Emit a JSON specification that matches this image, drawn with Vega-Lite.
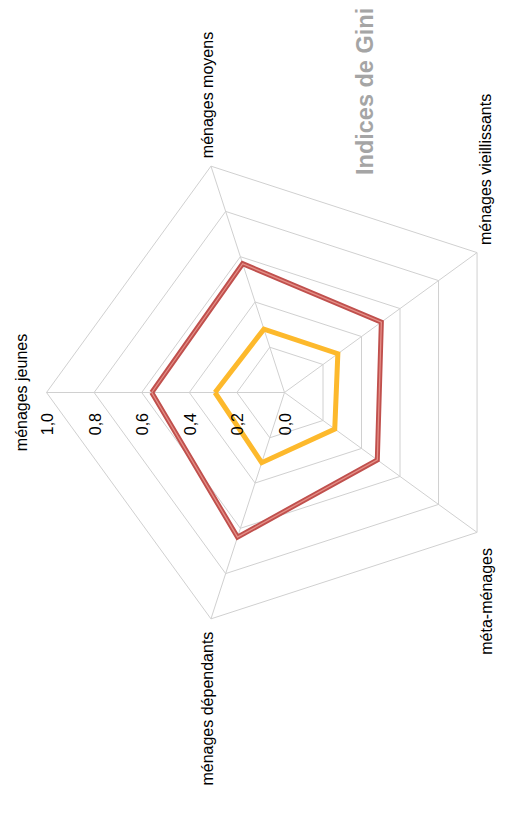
{
  "$schema": "https://vega.github.io/schema/vega-lite/v6.json",
  "width": 525,
  "height": 832,
  "autosize": "none",
  "padding": 0,
  "background": "white",
  "config": {"view": {"stroke": null}, "font": "Liberation Sans"},
  "datasets": {
    "gini": [
      {"serie": "Inégalité monétaire", "axe": "ménages jeunes", "k": 0, "valeur": 0.558},
      {"serie": "Inégalité monétaire", "axe": "ménages moyens", "k": 1, "valeur": 0.569},
      {"serie": "Inégalité monétaire", "axe": "ménages vieillissants", "k": 2, "valeur": 0.503},
      {"serie": "Inégalité monétaire", "axe": "méta-ménages", "k": 3, "valeur": 0.482},
      {"serie": "Inégalité monétaire", "axe": "ménages dépendants", "k": 4, "valeur": 0.639},
      {"serie": "Inégalité monétaire", "axe": "ménages jeunes", "k": 5, "valeur": 0.558},
      {"serie": "Inégalité non monétaire", "axe": "ménages jeunes", "k": 0, "valeur": 0.292},
      {"serie": "Inégalité non monétaire", "axe": "ménages moyens", "k": 1, "valeur": 0.28},
      {"serie": "Inégalité non monétaire", "axe": "ménages vieillissants", "k": 2, "valeur": 0.277},
      {"serie": "Inégalité non monétaire", "axe": "méta-ménages", "k": 3, "valeur": 0.261},
      {"serie": "Inégalité non monétaire", "axe": "ménages dépendants", "k": 4, "valeur": 0.31},
      {"serie": "Inégalité non monétaire", "axe": "ménages jeunes", "k": 5, "valeur": 0.292}
    ],
    "axes": [
      {"axe": "ménages jeunes", "k": 0},
      {"axe": "ménages moyens", "k": 1},
      {"axe": "ménages vieillissants", "k": 2},
      {"axe": "méta-ménages", "k": 3},
      {"axe": "ménages dépendants", "k": 4}
    ],
    "rings": [
      {"r": 0.2, "k": [0, 1, 2, 3, 4, 5]},
      {"r": 0.4, "k": [0, 1, 2, 3, 4, 5]},
      {"r": 0.6, "k": [0, 1, 2, 3, 4, 5]},
      {"r": 0.8, "k": [0, 1, 2, 3, 4, 5]},
      {"r": 1.0, "k": [0, 1, 2, 3, 4, 5]}
    ],
    "ticks": [
      {"t": "0,0", "r": 0},
      {"t": "0,2", "r": 0.2},
      {"t": "0,4", "r": 0.4},
      {"t": "0,6", "r": 0.6},
      {"t": "0,8", "r": 0.8},
      {"t": "1,0", "r": 1.0}
    ],
    "titre": [{"t": "Indices de Gini", "px": 0.3424, "py": 0.9139}]
  },
  "encoding": {
    "x": {"field": "px", "type": "quantitative", "scale": {"domain": [-1.19538, 1.0105], "nice": false, "zero": false}, "axis": null},
    "y": {"field": "py", "type": "quantitative", "scale": {"domain": [-1.84664, 1.64916], "nice": false, "zero": false}, "axis": null}
  },
  "layer": [
    {
      "data": {"name": "rings"},
      "transform": [
        {"flatten": ["k"]},
        {"calculate": "(180 - 72 * datum.k) * PI / 180", "as": "theta"},
        {"calculate": "datum.r * cos(datum.theta)", "as": "px"},
        {"calculate": "datum.r * sin(datum.theta)", "as": "py"}
      ],
      "mark": {"type": "line", "color": "#d0d0d0", "strokeWidth": 1},
      "encoding": {"detail": {"field": "r"}, "order": {"field": "k", "type": "quantitative"}}
    },
    {
      "data": {"name": "axes"},
      "transform": [
        {"calculate": "(180 - 72 * datum.k) * PI / 180", "as": "theta"},
        {"calculate": "cos(datum.theta)", "as": "px"},
        {"calculate": "sin(datum.theta)", "as": "py"}
      ],
      "mark": {"type": "rule", "color": "#d0d0d0", "strokeWidth": 1},
      "encoding": {"x2": {"datum": 0}, "y2": {"datum": 0}}
    },
    {
      "data": {"name": "gini"},
      "transform": [
        {"calculate": "(180 - 72 * datum.k) * PI / 180", "as": "theta"},
        {"calculate": "datum.valeur * cos(datum.theta)", "as": "px"},
        {"calculate": "datum.valeur * sin(datum.theta)", "as": "py"}
      ],
      "mark": {"type": "line", "strokeWidth": 5, "strokeJoin": "miter"},
      "encoding": {
        "color": {"field": "serie", "type": "nominal", "scale": {"domain": ["Inégalité monétaire", "Inégalité non monétaire"], "range": ["#c0504d", "#fdb92c"]}, "legend": null},
        "detail": {"field": "serie"},
        "order": {"field": "k", "type": "quantitative"}
      }
    },
    {
      "data": {"name": "gini"},
      "transform": [
        {"filter": "datum.serie == 'Inégalité monétaire'"},
        {"calculate": "(180 - 72 * datum.k) * PI / 180", "as": "theta"},
        {"calculate": "datum.valeur * cos(datum.theta)", "as": "px"},
        {"calculate": "datum.valeur * sin(datum.theta)", "as": "py"}
      ],
      "mark": {"type": "line", "strokeWidth": 1.3, "color": "#e58f87", "strokeJoin": "miter"},
      "encoding": {"order": {"field": "k", "type": "quantitative"}}
    },
    {
      "data": {"name": "axes"},
      "transform": [
        {"filter": "datum.k == 0"},
        {"calculate": "(180 - 72 * datum.k) * PI / 180", "as": "theta"},
        {"calculate": "cos(datum.theta)", "as": "px"},
        {"calculate": "sin(datum.theta)", "as": "py"}
      ],
      "mark": {"type": "text", "angle": 270, "align": "center", "baseline": "middle", "dy": -24.5, "fontSize": 16, "color": "#000000"},
      "encoding": {"text": {"field": "axe"}}
    },
    {
      "data": {"name": "axes"},
      "transform": [
        {"filter": "datum.k == 1"},
        {"calculate": "(180 - 72 * datum.k) * PI / 180", "as": "theta"},
        {"calculate": "cos(datum.theta)", "as": "px"},
        {"calculate": "sin(datum.theta)", "as": "py"}
      ],
      "mark": {"type": "text", "angle": 270, "align": "left", "baseline": "middle", "dx": 8, "dy": -3, "fontSize": 16, "color": "#000000"},
      "encoding": {"text": {"field": "axe"}}
    },
    {
      "data": {"name": "axes"},
      "transform": [
        {"filter": "datum.k == 2"},
        {"calculate": "(180 - 72 * datum.k) * PI / 180", "as": "theta"},
        {"calculate": "cos(datum.theta)", "as": "px"},
        {"calculate": "sin(datum.theta)", "as": "py"}
      ],
      "mark": {"type": "text", "angle": 270, "align": "left", "baseline": "middle", "dx": 7.6, "dy": 9, "fontSize": 16, "color": "#000000"},
      "encoding": {"text": {"field": "axe"}}
    },
    {
      "data": {"name": "axes"},
      "transform": [
        {"filter": "datum.k == 3"},
        {"calculate": "(180 - 72 * datum.k) * PI / 180", "as": "theta"},
        {"calculate": "cos(datum.theta)", "as": "px"},
        {"calculate": "sin(datum.theta)", "as": "py"}
      ],
      "mark": {"type": "text", "angle": 270, "align": "right", "baseline": "middle", "dx": -15.6, "dy": 9.5, "fontSize": 16, "color": "#000000"},
      "encoding": {"text": {"field": "axe"}}
    },
    {
      "data": {"name": "axes"},
      "transform": [
        {"filter": "datum.k == 4"},
        {"calculate": "(180 - 72 * datum.k) * PI / 180", "as": "theta"},
        {"calculate": "cos(datum.theta)", "as": "px"},
        {"calculate": "sin(datum.theta)", "as": "py"}
      ],
      "mark": {"type": "text", "angle": 270, "align": "right", "baseline": "middle", "dx": -12.8, "dy": -3, "fontSize": 16, "color": "#000000"},
      "encoding": {"text": {"field": "axe"}}
    },
    {
      "data": {"name": "ticks"},
      "transform": [
        {"calculate": "-datum.r", "as": "px"},
        {"calculate": "0", "as": "py"}
      ],
      "mark": {"type": "text", "angle": 270, "align": "right", "baseline": "middle", "dx": -20.5, "dy": 1.5, "fontSize": 16, "color": "#000000"},
      "encoding": {"text": {"field": "t"}}
    },
    {
      "data": {"name": "titre"},
      "mark": {"type": "text", "angle": 270, "align": "left", "baseline": "middle", "fontSize": 23.5, "fontWeight": "bold", "color": "#a5a5a5"},
      "encoding": {"text": {"field": "t"}}
    }
  ]
}
